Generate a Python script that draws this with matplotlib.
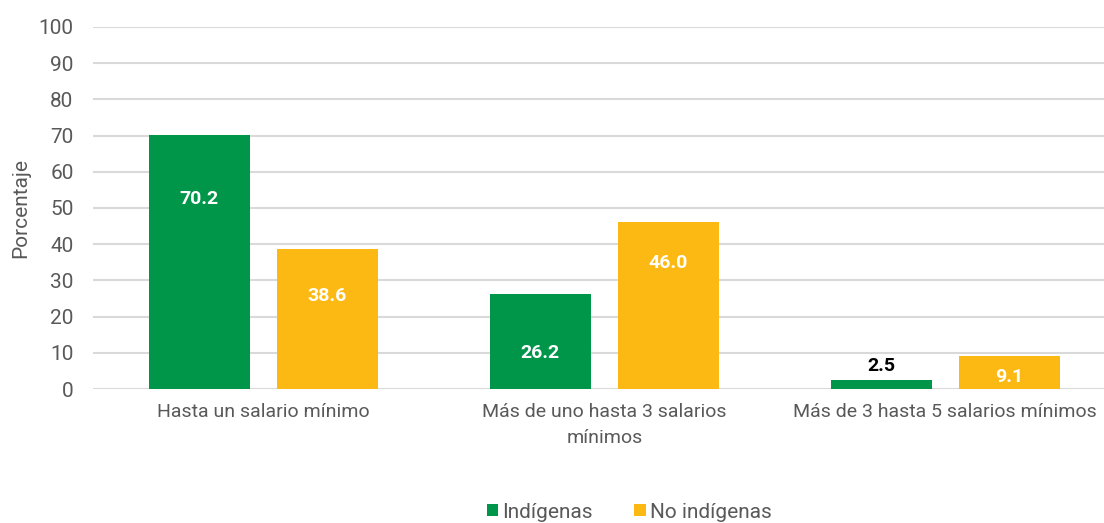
import matplotlib
matplotlib.use("Agg")
from matplotlib import pyplot as plt
import numpy as np

categories = ["Hasta un salario mínimo", "Más de uno hasta 3 salarios\nmínimos",
              "Más de 3 hasta 5 salarios mínimos"]
indigenas = [70.2, 26.2, 2.5]
no_indigenas = [38.6, 46.0, 9.1]
series_names = ["Indígenas", "No indígenas"]

# where the value labels sit (in data units)
lab_ind = [52.5, 10.0, 6.4]
lab_no = [25.8, 34.8, 3.4]

green = "#00964A"
yellow = "#FDB913"
txt = "#595959"
grid = "#D9D9D9"

plt.rcParams['font.family'] = ['Roboto', 'DejaVu Sans']

fig = plt.figure(figsize=(11.04, 5.23), dpi=100)
ax = fig.add_axes([0.0842, 0.2562, 0.9158, 0.6922])

x = np.arange(len(categories))
w = 0.296
off = 0.188
ax.bar(x - off, indigenas, w, color=green, label=series_names[0], zorder=3)
ax.bar(x + off, no_indigenas, w, color=yellow, label=series_names[1], zorder=3)

for i in range(len(categories)):
    c = "white" if indigenas[i] > 5 else "black"
    ax.text(x[i] - off, lab_ind[i], f"{indigenas[i]:.1f}", ha='center', va='center',
            color=c, fontsize=14, fontweight='bold', zorder=4)
    ax.text(x[i] + off, lab_no[i], f"{no_indigenas[i]:.1f}", ha='center', va='center',
            color="white", fontsize=14, fontweight='bold', zorder=4)

ax.set_xlim(-0.5, 2.466)
ax.set_ylim(0, 100)
ax.set_yticks(range(0, 101, 10))
ax.set_xticks(x)
ax.set_xticklabels(categories, fontsize=14, color=txt, linespacing=1.6)
ax.tick_params(axis='y', labelsize=15, colors=txt, length=0, pad=14)
ax.tick_params(axis='x', length=0, pad=10)
ax.yaxis.grid(color=grid, linewidth=1.5, zorder=0)
ax.set_axisbelow(True)
for s in ax.spines.values():
    s.set_visible(False)
ax.set_ylabel("Porcentaje", fontsize=15, color=txt, labelpad=6)

fig.legend(loc='center', bbox_to_anchor=(0.57, 0.021), ncol=2, frameon=False,
           fontsize=15, handlelength=0.55, handleheight=0.55, handletextpad=0.2,
           columnspacing=2.0, labelcolor=txt)

fig.savefig("out.png", dpi=100)
